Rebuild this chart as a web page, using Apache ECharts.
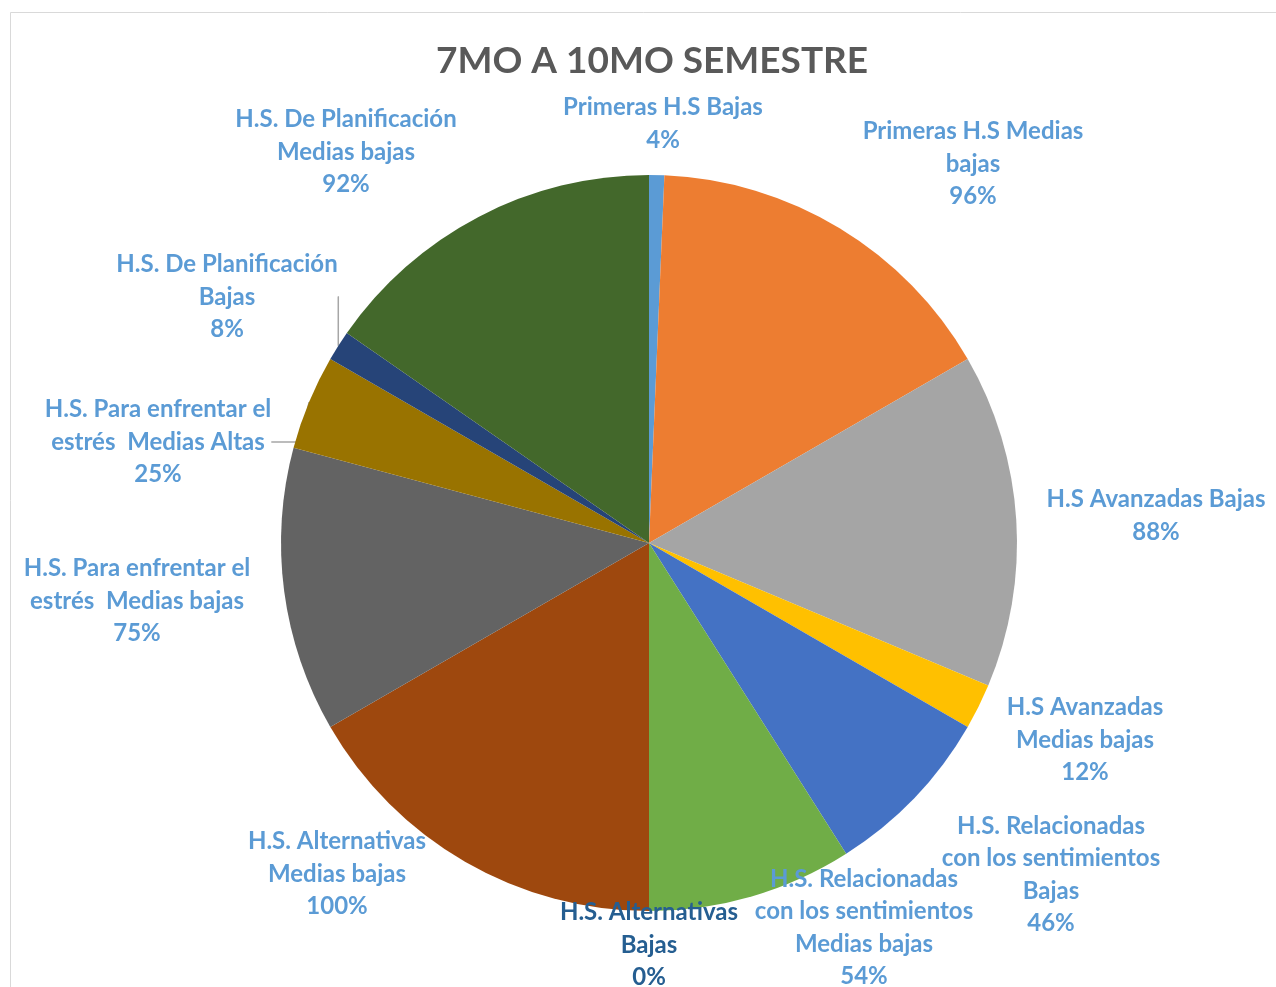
<!DOCTYPE html>
<html>
<head>
<meta charset="utf-8">
<script src="https://cdn.jsdelivr.net/npm/echarts@6/dist/echarts.min.js"></script>
<style>
  html, body { margin: 0; padding: 0; background: #fff; }
  #chart { width: 1276px; height: 987px; }
</style>
</head>
<body>
<div id="chart"></div>
<script>
// categorías y valores (en %)
const categories = [
  'Primeras H.S Bajas',
  'Primeras H.S Medias\nbajas',
  'H.S Avanzadas Bajas',
  'H.S Avanzadas\nMedias bajas',
  'H.S. Relacionadas\ncon los sentimientos\nBajas',
  'H.S. Relacionadas\ncon los sentimientos\nMedias bajas',
  'H.S. Alternativas\nBajas',
  'H.S. Alternativas\nMedias bajas',
  'H.S. Para enfrentar el\nestrés  Medias bajas',
  'H.S. Para enfrentar el\nestrés  Medias Altas',
  'H.S. De Planificación\nBajas',
  'H.S. De Planificación\nMedias bajas'
];
const values = [4, 96, 88, 12, 46, 54, 0, 100, 75, 25, 8, 92];
const colors = [
  '#5B9BD5', '#ED7D31', '#A5A5A5', '#FFC000', '#4472C4', '#70AD47',
  '#255E91', '#9E480E', '#636363', '#997300', '#264478', '#43682B'
];

// posición de cada etiqueta (centro del bloque de texto)
const labelPos = [
  [663, 124], [973, 164], [1156, 516], [1085, 740], [1051, 875], [864, 928],
  [649, 945], [337, 874], [137, 601], [158, 442], [227, 297], [346, 152]
];
const withLine = [9, 10];

const chart = echarts.init(document.getElementById('chart'));

const option = {
  backgroundColor: '#ffffff',
  animation: false,
  title: {
    text: '7MO A 10MO SEMESTRE',
    left: 431,
    top: 38,
    textStyle: {
      fontFamily: 'Lato',
      fontSize: 37,
      fontWeight: 'bold',
      color: '#595959'
    }
  },
  graphic: [{
    type: 'rect',
    shape: { x: 10.5, y: 12.5, width: 1300, height: 1000 },
    style: { fill: 'none', stroke: '#D9D9D9', lineWidth: 1 },
    silent: true
  }],
  series: [{
    type: 'pie',
    center: [649, 543],
    radius: 368,
    startAngle: 90,
    clockwise: true,
    avoidLabelOverlap: false,
    itemStyle: { borderWidth: 0 },
    label: {
      show: true,
      formatter: '{b}\n{c}%',
      fontFamily: 'Lato',
      fontSize: 24,
      fontWeight: 'bold',
      lineHeight: 32.5,
      color: '#5B9BD5',
      align: 'center'
    },
    labelLine: {
      show: false,
      lineStyle: { color: '#A6A6A6', width: 1.5 }
    },
    labelLayout: function (params) {
      const p = labelPos[params.dataIndex];
      return {
        x: p[0],
        y: p[1],
        align: 'center',
        verticalAlign: 'middle'
      };
    },
    data: values.map((v, i) => ({
      name: categories[i],
      value: v,
      itemStyle: { color: colors[i] },
      label: i === 6 ? { color: '#255E91' } : {},
      labelLine: { show: withLine.indexOf(i) >= 0 }
    }))
  }]
};

chart.setOption(option);
</script>
</body>
</html>
